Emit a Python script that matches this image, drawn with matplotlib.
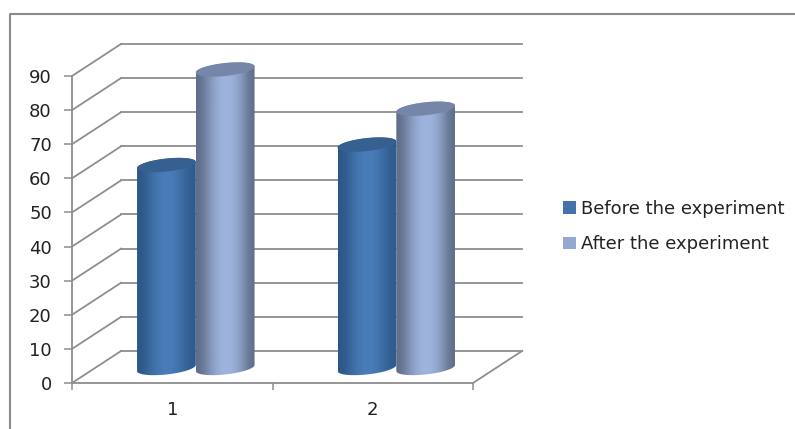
import matplotlib
matplotlib.use('Agg')
import matplotlib.pyplot as plt
import numpy as np
from matplotlib.lines import Line2D
from matplotlib.patches import Patch, Polygon

categories = [1, 2]
before = [59.5, 65.5]
after = [87.5, 76]
series_names = ['Before the experiment', 'After the experiment']
y_ticks = [0, 10, 20, 30, 40, 50, 60, 70, 80, 90]

legend_colors = ['#4373AA', '#93A9D0']
shades = [['#2C5685', '#39689E', '#4678B3', '#4A7EBB', '#477AB5', '#3A699F', '#2F5B8E'],
          ['#5F6E8A', '#7E8FB0', '#97ADD6', '#A0B6E0', '#9BB0DA', '#8496BA', '#5F6F8A']]
top_colors = ['#35608F', '#7586A8']
grid_color = '#8E8E8E'

# depth of the fake 3d box, in axis units
depth_x = 0.245
depth_y = 9.4
bar_w = 0.293
shift_x = 0.1175
base_y = 4.4
ell_h = 1.9
ell_tilt = 0.9

W, H = 795, 429
fig = plt.figure(figsize=(W / 100, H / 100), dpi=100)
ax = fig.add_axes([72 / W, 1 - 383 / H, 401 / W, 307 / H])
ax.patch.set_alpha(0)


def ellipse(cx, cy, t):
    return np.column_stack([cx + bar_w / 2 * np.cos(t),
                            cy + ell_h * np.sin(t) + ell_tilt * np.cos(t)])


def cylinder(left, value, idx):
    cx = left + bar_w / 2
    top = base_y + value
    lower = ellipse(cx, base_y, np.linspace(np.pi, 2 * np.pi, 50))
    upper = ellipse(cx, top, np.linspace(0, np.pi, 50))
    body = Polygon(np.vstack([lower, upper]), closed=True, fc='none', ec='none')
    ax.add_patch(body)

    rgb = np.array([matplotlib.colors.to_rgb(c) for c in shades[idx]])
    grad = rgb[np.newaxis, :, :]
    im = ax.imshow(grad, extent=[left, left + bar_w, 0, top + 3], aspect='auto',
                   interpolation='bicubic', origin='lower', zorder=3 + idx)
    im.set_clip_path(body)
    # images fall back on the axes box otherwise, and the tall bar pokes out of it
    im.set_clip_box(fig.bbox)
    body.set_zorder(2)

    cap = Polygon(ellipse(cx, top, np.linspace(0, 2 * np.pi, 80)), closed=True,
                  fc=top_colors[idx], ec='none', zorder=3 + idx, clip_on=False)
    ax.add_patch(cap)


# back wall, floor and side wall lines
for v in y_ticks:
    ax.plot([0.5 + depth_x, 2.5 + depth_x], [v + depth_y, v + depth_y],
            color=grid_color, lw=1.3, clip_on=False, zorder=1)
    ax.plot([0.5, 0.5 + depth_x], [v, v + depth_y],
            color=grid_color, lw=1.3, clip_on=False, zorder=1)
ax.plot([2.5, 2.5 + depth_x], [0, depth_y], color=grid_color, lw=1.3,
        clip_on=False, zorder=1)

for cat, b, a in zip(categories, before, after):
    cylinder(cat + shift_x - bar_w, b, 0)
    cylinder(cat + shift_x, a, 1)

ax.set_xlim(0.5, 2.5)
ax.set_ylim(0, 90)
ax.spines['top'].set_visible(False)
ax.spines['right'].set_visible(False)
for side in ['left', 'bottom']:
    ax.spines[side].set_color(grid_color)
    ax.spines[side].set_linewidth(1.3)

ax.set_yticks(y_ticks)
ax.set_xticks(categories)
ax.set_xticks([0.5, 1.5, 2.5], minor=True)
ax.tick_params(axis='y', length=5.5, width=1.1, color=grid_color, labelsize=13,
               labelcolor='#222222', pad=9)
ax.tick_params(axis='x', which='major', length=0, labelsize=13,
               labelcolor='#222222', pad=13)
ax.tick_params(axis='x', which='minor', length=5, width=1.1, color=grid_color)

handles = [Patch(fc=c, ec='none') for c in legend_colors]
fig.legend(handles, series_names, loc='center left', bbox_to_anchor=(547 / W, 1 - 226.5 / H),
           frameon=False, fontsize=13, handlelength=0.72, handleheight=0.72,
           handletextpad=0.28, labelspacing=0.98, labelcolor='#222222')

# outer chart frame, only left and top show in the crop
fig.add_artist(Line2D([10 / W, 10 / W, 1], [0, 1 - 14 / H, 1 - 14 / H],
                      color='#8A8A8A', lw=1.5))

fig.savefig('out.png', dpi=100)
